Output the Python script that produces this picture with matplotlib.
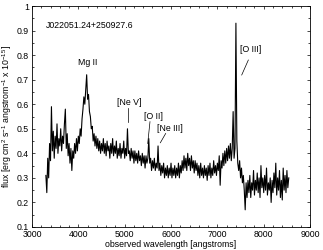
import numpy as np
import matplotlib
matplotlib.use("Agg")
import matplotlib.pyplot as plt

plt.rcParams['font.family'] = ['Liberation Sans', 'DejaVu Sans']
plt.rcParams['mathtext.default'] = 'regular'

# Spectrum sampling (Angstrom)
WAV_START = 3300
WAV_STEP = 20

flux = [
    0.31, 0.24, 0.38, 0.30, 0.44, 0.37, 0.59, 0.41, 0.49, 0.38, 0.47, 0.42, 0.52, 0.40, 0.46, 0.43, 0.50, 0.41, 0.47, 0.44, 0.52, 0.58, 0.42, 0.48, 0.39,
    0.44, 0.36, 0.42, 0.33, 0.41, 0.38, 0.44, 0.40, 0.46, 0.41, 0.47, 0.44, 0.50, 0.47, 0.54, 0.58, 0.63, 0.60, 0.66, 0.72, 0.62, 0.64, 0.57, 0.55, 0.50,
    0.51, 0.45, 0.48, 0.43, 0.47, 0.42, 0.46, 0.41, 0.45, 0.40, 0.44, 0.41, 0.46, 0.40, 0.44, 0.39, 0.45, 0.41, 0.43, 0.38, 0.44, 0.40, 0.46, 0.39, 0.43,
    0.40, 0.45, 0.38, 0.42, 0.39, 0.44, 0.38, 0.42, 0.40, 0.45, 0.38, 0.42, 0.39, 0.50, 0.40, 0.41, 0.37, 0.42, 0.38, 0.41, 0.36, 0.41, 0.37, 0.40, 0.36,
    0.41, 0.37, 0.39, 0.35, 0.40, 0.36, 0.39, 0.34, 0.39, 0.36, 0.38, 0.46, 0.36, 0.38, 0.33, 0.37, 0.34, 0.38, 0.33, 0.36, 0.34, 0.43, 0.33, 0.36, 0.31,
    0.35, 0.32, 0.36, 0.30, 0.34, 0.31, 0.35, 0.30, 0.34, 0.31, 0.36, 0.30, 0.34, 0.31, 0.35, 0.30, 0.34, 0.31, 0.36, 0.30, 0.35, 0.32, 0.37, 0.33, 0.39,
    0.34, 0.38, 0.33, 0.40, 0.35, 0.38, 0.33, 0.39, 0.34, 0.37, 0.32, 0.37, 0.33, 0.36, 0.31, 0.35, 0.30, 0.36, 0.31, 0.34, 0.30, 0.35, 0.31, 0.34, 0.29,
    0.35, 0.31, 0.36, 0.30, 0.34, 0.31, 0.37, 0.32, 0.35, 0.31, 0.36, 0.33, 0.39, 0.27, 0.37, 0.34, 0.40, 0.35, 0.41, 0.36, 0.42, 0.37, 0.43, 0.38, 0.44,
    0.37, 0.42, 0.57, 0.38, 0.42, 0.93, 0.45, 0.36, 0.33, 0.37, 0.30, 0.34, 0.28, 0.31, 0.25, 0.17, 0.28, 0.22, 0.29, 0.24, 0.31, 0.22, 0.28, 0.25, 0.33,
    0.23, 0.29, 0.25, 0.32, 0.24, 0.30, 0.22, 0.35, 0.26, 0.30, 0.24, 0.31, 0.25, 0.34, 0.23, 0.28, 0.25, 0.30, 0.20, 0.29, 0.24, 0.32, 0.26, 0.36, 0.23,
    0.30, 0.25, 0.33, 0.22, 0.29, 0.21, 0.34, 0.25, 0.31, 0.24, 0.33, 0.26, 0.30,
]

object_name = "J022051.24+250927.6"
line_labels = ["Mg II", "[Ne V]", "[O II]", "[Ne III]", "[O III]"]
label_x = [4210, 5093, 5622, 5978, 7727]
label_y = [0.768, 0.605, 0.552, 0.503, 0.821]
pointer_x0 = [None, 5070, 5546, 5885, 7668]
pointer_y0 = [None, 0.584, 0.529, 0.481, 0.780]
pointer_x1 = [None, 5070, 5497, 5769, 7525]
pointer_y1 = [None, 0.527, 0.440, 0.443, 0.719]

xticks = [3000, 4000, 5000, 6000, 7000, 8000, 9000]
yticks = [0.1, 0.2, 0.3, 0.4, 0.5, 0.6, 0.7, 0.8, 0.9, 1.0]
yticklabels = ["0.1", "0.2", "0.3", "0.4", "0.5", "0.6", "0.7", "0.8", "0.9", "1"]

wav = WAV_START + WAV_STEP * np.arange(len(flux))

fig = plt.figure(figsize=(3.23, 2.50), dpi=100)
ax = fig.add_axes([0.099, 0.092, 0.861, 0.884])

ax.plot(wav, flux, color='black', lw=0.8)

ax.set_xlim(3000, 9000)
ax.set_ylim(0.1, 1.0)
ax.set_xticks(xticks)
ax.set_xticklabels([str(t) for t in xticks])
ax.set_yticks(yticks)
ax.set_yticklabels(yticklabels)
ax.set_xticks(np.arange(3000, 9001, 200), minor=True)
ax.set_yticks(np.arange(0.1, 1.001, 0.05), minor=True)
ax.tick_params(which='both', direction='in', top=True, right=True, labelsize=6.3, width=0.5, pad=2)
ax.tick_params(which='major', length=2.3)
ax.tick_params(which='minor', length=1.2)
for s in ax.spines.values():
    s.set_linewidth(0.6)

ax.set_xlabel("observed wavelength [angstroms]", fontsize=6.3, labelpad=1)
ax.set_ylabel("flux [erg cm$^2$ s$^{-1}$ angstrom$^{-1}$ x 10$^{-15}$]", fontsize=6.3, labelpad=2)

ax.text(3300, 0.919, object_name, fontsize=6.3, ha='left', va='center')
for i, lab in enumerate(line_labels):
    ax.text(label_x[i], label_y[i], lab, fontsize=6.3, ha='center', va='center')
    if pointer_x0[i] is not None:
        ax.plot([pointer_x0[i], pointer_x1[i]], [pointer_y0[i], pointer_y1[i]], color='black', lw=0.5)

fig.savefig("out.png", dpi=100)
